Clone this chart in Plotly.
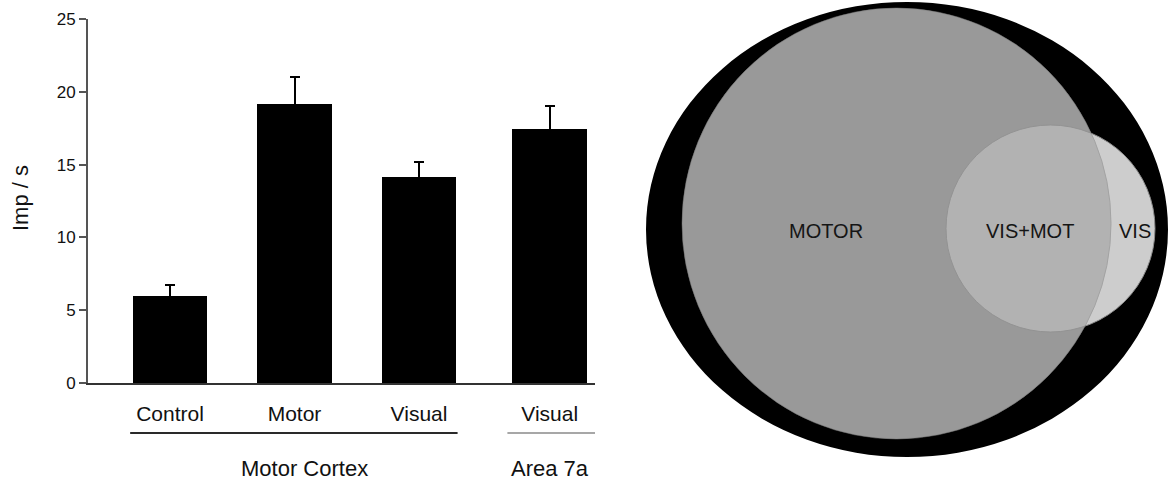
import plotly.graph_objects as go

# Firing rates (imp/s) with SEM, per recording condition
categories = ["Control", "Motor", "Visual", "Visual"]
rates = [6.0, 19.15, 14.15, 17.45]
sem = [0.7, 1.9, 1.0, 1.55]
groups = ["Motor Cortex", "Area 7a"]
group_members = [[0, 1, 2], [3]]
y_ticks = [0, 5, 10, 15, 20, 25]

# Venn region labels
venn_labels = ["MOTOR", "VIS+MOT", "VIS"]

# layout constants
bar_x = [0, 1, 2, 3.05]
bar_w = 0.6
W, H = 1172, 481
FONT = "Liberation Sans, Arial, sans-serif"

fig = go.Figure()

# error bars are symmetric; the lower half sits hidden inside the black bar
fig.add_trace(go.Bar(
    x=bar_x, y=rates, width=bar_w,
    marker=dict(color="black", line=dict(width=0)),
    error_y=dict(type="data", array=sem, symmetric=True,
                 color="black", thickness=2, width=5),
    xaxis="x", yaxis="y", showlegend=False,
))

shapes = []
annotations = []

# group underlines and group names
line_y = (H - 433) / H
for gi, (name, members) in enumerate(zip(groups, group_members)):
    left = bar_x[members[0]] - bar_w / 2
    right = bar_x[members[-1]] + bar_w / 2
    if gi == 0:
        x0, x1, col, lw, shift = left - 0.02, right + 0.01, "#2a2a2a", 2, 10
    else:
        x0, x1, col, lw, shift = left - 0.04, right + 0.1, "#8a8a8a", 1.5, 0
    shapes.append(dict(type="line", xref="x", yref="paper",
                       x0=x0, x1=x1, y0=line_y, y1=line_y,
                       line=dict(color=col, width=lw)))
    cx = sum(bar_x[m] for m in members) / len(members)
    annotations.append(dict(x=cx, y=(H - 468) / H, xref="x", yref="paper",
                            text=name, showarrow=False, xshift=shift,
                            xanchor="center", yanchor="middle",
                            font=dict(family=FONT, size=22, color="#111")))

# y-axis title
annotations.append(dict(x=20 / W, y=(H - 198) / H, xref="paper", yref="paper",
                        text="Imp / s", textangle=-90, showarrow=False,
                        xanchor="center", yanchor="middle",
                        font=dict(family=FONT, size=22, color="#111")))

# Venn diagram on a pixel-scaled helper axis
def ellipse(cx, cy, rx, ry, fill, line_col=None, lw=0, opacity=1.0):
    return dict(type="circle", xref="x2", yref="y2",
                x0=cx - rx, x1=cx + rx, y0=cy - ry, y1=cy + ry,
                fillcolor=fill, opacity=opacity,
                line=dict(color=line_col or fill, width=lw))

outer = (907, 229.5, 261, 227.5)
motor = (896.5, 223.5, 214.5, 215.5)
vis = (1050.5, 228.5, 104.5, 103.5)

shapes.append(ellipse(*outer, "black"))
shapes.append(ellipse(*motor, "#999999"))
shapes.append(ellipse(*vis, "#cdcdcd", "#8c8c8c", 1))
shapes.append(ellipse(*motor, "#999999", "#7a7a7a", 1, opacity=0.5))

label_x = [826, 1030, 1135]
for txt, lx in zip(venn_labels, label_x):
    annotations.append(dict(x=lx, y=231, xref="x2", yref="y2", text=txt,
                            showarrow=False, xanchor="center", yanchor="middle",
                            font=dict(family=FONT, size=20, color="#151515")))

x_lo = -(170 - 88) / 124.5
x_hi = (595 - 170) / 124.5

fig.update_layout(
    width=W, height=H,
    margin=dict(l=0, r=0, t=0, b=0, pad=0, autoexpand=False),
    paper_bgcolor="white", plot_bgcolor="rgba(0,0,0,0)",
    font=dict(family=FONT, color="#111"),
    bargap=0,
    xaxis=dict(domain=[88 / W, 595 / W], range=[x_lo, x_hi], automargin=False,
               showgrid=False, zeroline=False,
               showline=True, linecolor="#333333", linewidth=2,
               tickvals=bar_x, ticktext=categories,
               ticks="outside", ticklen=11, tickcolor="rgba(0,0,0,0)",
               tickfont=dict(family=FONT, size=21, color="#111")),
    yaxis=dict(domain=[(H - 383) / H, (H - 19) / H], range=[0, 25],
               automargin=False,
               tickvals=y_ticks, showgrid=False, zeroline=False,
               showline=True, linecolor="#555555", linewidth=2,
               ticks="outside", ticklen=7, tickwidth=1.5, tickcolor="#555555",
               tickfont=dict(family=FONT, size=17, color="#111")),
    xaxis2=dict(domain=[620 / W, 1], range=[620, W], visible=False,
                anchor="y2", automargin=False),
    yaxis2=dict(domain=[0, 1], range=[H, 0], visible=False, anchor="x2",
                automargin=False),
    shapes=shapes,
    annotations=annotations,
)

fig.write_html("out.html")
